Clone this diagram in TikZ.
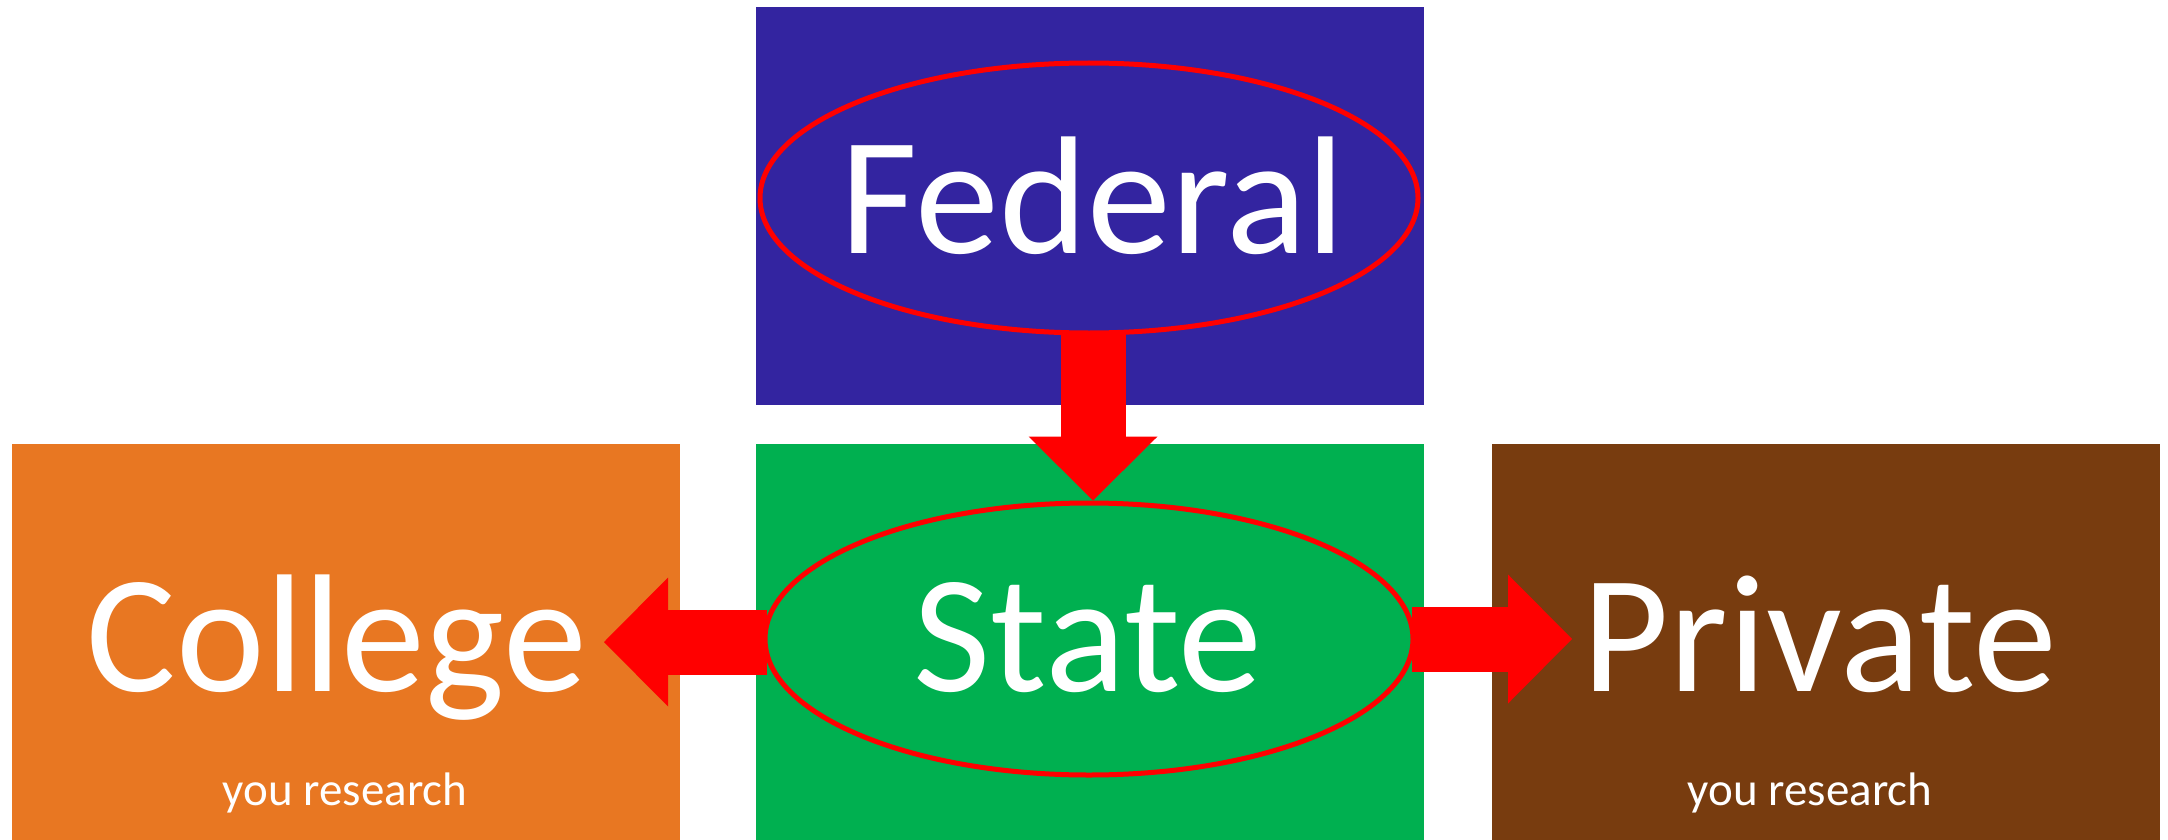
\documentclass[tikz,border=0pt]{standalone}
\usepackage{fontspec}
\newfontfamily\carlito{Carlito}
\usetikzlibrary{shapes.geometric,arrows.meta,calc}
\definecolor{fedblue}{HTML}{3324A0}
\definecolor{stategreen}{HTML}{00B050}
\definecolor{collorange}{HTML}{E87722}
\definecolor{privbrown}{HTML}{783C0F}
\tikzset{
  box/.style={rectangle, draw=none, inner sep=0pt, minimum width=668pt},
  ring/.style={ellipse, draw=red, line width=5pt, inner sep=0pt},
  bigtxt/.style={text=white, anchor=base, inner sep=0pt, font=\carlito\fontsize{168}{180}\selectfont},
  smalltxt/.style={text=white, anchor=base, inner sep=0pt, font=\carlito\fontsize{47}{56}\selectfont},
  blockarrow/.style={draw=red, line width=65pt,
    -{Triangle[width=129pt, length=64pt, line width=0pt]}}
}
\begin{document}
\begin{tikzpicture}[x=1pt, y=-1pt]
  \useasboundingbox (0,0) rectangle (2168,840);
  % level boxes
  \node[box, fill=fedblue, minimum height=398pt] (fed) at (1090,206) {};
  \node[box, fill=stategreen, minimum height=396pt] (state) at (1090,642) {};
  \node[box, fill=collorange, minimum height=396pt] (college) at (346,642) {};
  \node[box, fill=privbrown, minimum height=396pt] (private) at (1826,642) {};
  % rings round the two government levels
  \node[ring, minimum width=658pt, minimum height=270pt] (fedE) at (1089,198) {};
  \node[ring, minimum width=648pt, minimum height=272pt] (stateE) at (1089,639) {};
  % arrow ends inside the side boxes
  \coordinate (colTip) at (604,642);
  \coordinate (priTip) at (1572,639);
  % arrows
  \draw[blockarrow] ($(fedE.south)+(4,-2)$) -- ($(stateE.north)+(4,0)$);
  \draw[blockarrow] ($(stateE.west)+(4,3)$) -- (colTip);
  \draw[blockarrow] ($(stateE.east)+(-4,0)$) -- (priTip);
  % labels
  \node[bigtxt] (fedT) at (1093,253) {Federal};
  \node[bigtxt] (stateT) at (1088,691) {State};
  \node[bigtxt] (collT) at (337,691) {College};
  \node[bigtxt] (privT) at (1820,691) {Private};
  \node[smalltxt] (collSub) at (345,805) {you research};
  \node[smalltxt] (privSub) at (1810,805) {you research};
\end{tikzpicture}
\end{document}
